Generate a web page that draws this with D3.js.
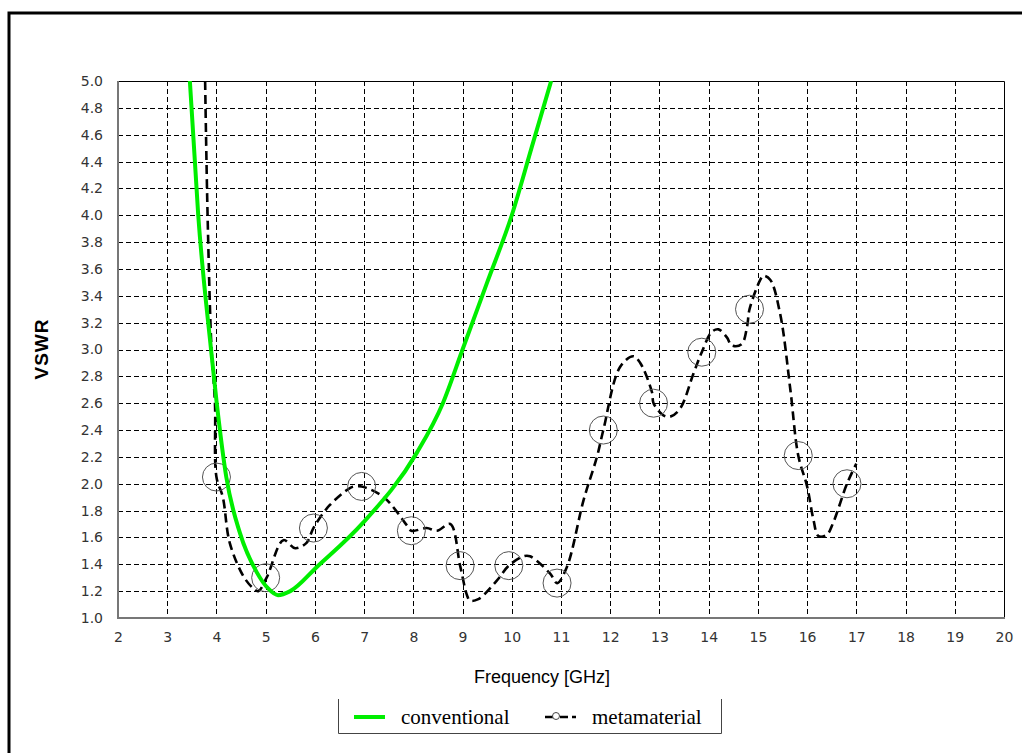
<!DOCTYPE html>
<html>
<head>
<meta charset="utf-8">
<script src="https://cdn.jsdelivr.net/npm/d3@7"></script>
<style>
  body { margin: 0; background: #fff; }
  svg { display: block; }
</style>
</head>
<body>
<div id="chart"></div>
<script>
const width = 1022;
const height = 753;

// frequency ticks (GHz) and VSWR ticks
const xTicks = d3.range(2, 21, 1);
const yTicks = d3.range(1.0, 5.01, 0.2);

// conventional antenna
const convFreq = [3.46, 3.63, 3.89, 4.0, 4.2, 4.48, 4.82, 5.05, 5.25, 5.5, 6.04, 6.98, 8.07, 8.6, 9.0, 9.5, 10.0, 10.4, 10.8];
const convVswr = [5.0, 4.0, 3.0, 2.62, 2.05, 1.63, 1.34, 1.22, 1.17, 1.2, 1.38, 1.71, 2.23, 2.6, 3.0, 3.5, 4.0, 4.5, 5.0];

// metamaterial antenna
const metaFreq = [3.77, 3.82, 3.9, 3.97, 4.0, 4.13, 4.27, 4.55, 4.75, 4.85, 5.02, 5.36, 5.6, 5.83, 5.97, 6.3, 6.72, 6.82, 6.95, 7.4, 7.87, 7.96, 8.27, 8.48, 8.75, 8.95, 9.09, 9.15, 9.32, 9.7, 9.94, 10.24, 10.37, 10.78, 10.92, 11.12, 11.46, 11.73, 11.86, 12.2, 12.47, 12.61, 12.85, 12.88, 13.08, 13.22, 13.42, 13.69, 13.86, 14.06, 14.2, 14.37, 14.47, 14.67, 14.78, 14.83, 15.05, 15.11, 15.25, 15.45, 15.66, 15.82, 16.0, 16.13, 16.23, 16.4, 16.53, 16.81, 17.0];
const metaVswr = [5.0, 4.0, 3.0, 2.6, 2.05, 1.9, 1.56, 1.31, 1.22, 1.2, 1.3, 1.58, 1.52, 1.56, 1.67, 1.84, 1.97, 1.98, 1.98, 1.9, 1.69, 1.65, 1.67, 1.65, 1.7, 1.39, 1.17, 1.13, 1.14, 1.28, 1.39, 1.46, 1.46, 1.33, 1.26, 1.38, 1.88, 2.2, 2.4, 2.87, 2.95, 2.9, 2.68, 2.6, 2.51, 2.5, 2.56, 2.82, 2.98, 3.13, 3.15, 3.09, 3.03, 3.04, 3.17, 3.3, 3.52, 3.55, 3.52, 3.27, 2.7, 2.21, 1.98, 1.73, 1.61, 1.62, 1.71, 2.0, 2.15];

// circle markers on the metamaterial curve
const markFreq = [4.0, 5.0, 5.97, 6.95, 7.96, 8.95, 9.94, 10.92, 11.86, 12.88, 13.86, 14.83, 15.82, 16.81];
const markVswr = [2.05, 1.30, 1.67, 1.98, 1.65, 1.39, 1.39, 1.26, 2.40, 2.60, 2.98, 3.30, 2.21, 2.00];

const margin = { left: 118, right: 1004, top: 81, bottom: 618 };

const svg = d3.select("#chart")
    .append("svg")
    .attr("width", width)
    .attr("height", height);

// outer frame (runs off the right and bottom edge)
svg.append("rect")
    .attr("x", 9)
    .attr("y", 13)
    .attr("width", 1040)
    .attr("height", 780)
    .attr("fill", "none")
    .attr("stroke", "#000")
    .attr("stroke-width", 3);

const x = d3.scaleLinear().domain([2, 20]).range([margin.left, margin.right]);
const y = d3.scaleLinear().domain([1, 5]).range([margin.bottom, margin.top]);

// grid
const grid = svg.append("g");
grid.selectAll(".vgrid")
    .data(xTicks.slice(1, -1))
    .enter()
    .append("line")
    .attr("x1", d => Math.round(x(d)) + 0.5)
    .attr("x2", d => Math.round(x(d)) + 0.5)
    .attr("y1", margin.top)
    .attr("y2", margin.bottom)
    .attr("stroke", "#000")
    .attr("stroke-dasharray", "5,3");
grid.selectAll(".hgrid")
    .data(yTicks.slice(1, -1))
    .enter()
    .append("line")
    .attr("x1", margin.left)
    .attr("x2", margin.right)
    .attr("y1", d => Math.round(y(d)) + 0.5)
    .attr("y2", d => Math.round(y(d)) + 0.5)
    .attr("stroke", "#000")
    .attr("stroke-dasharray", "5,3");

// plot border
svg.append("path")
    .attr("d", `M${margin.left},${margin.top + 0.5}H${margin.right + 0.5}V${margin.bottom}`)
    .attr("fill", "none")
    .attr("stroke", "#000")
    .attr("stroke-width", 1);
svg.append("path")
    .attr("d", `M${margin.left},${margin.top}V${margin.bottom}H${margin.right + 1}`)
    .attr("fill", "none")
    .attr("stroke", "#777")
    .attr("stroke-width", 2);

// axes
const xAxis = svg.append("g")
    .attr("transform", `translate(0,${margin.bottom})`)
    .call(d3.axisBottom(x).tickValues(xTicks).tickSize(0).tickPadding(14).tickFormat(d3.format("d")));
const yAxis = svg.append("g")
    .attr("transform", `translate(${margin.left},0)`)
    .call(d3.axisLeft(y).tickValues(yTicks).tickSize(0).tickPadding(15).tickFormat(d3.format(".1f")));
[xAxis, yAxis].forEach(a => {
    a.select(".domain").remove();
    a.selectAll("text")
        .attr("font-family", "DejaVu Sans, sans-serif")
        .attr("font-size", 14)
        .attr("fill", "#333");
});

// clip for curves
svg.append("clipPath").attr("id", "plotClip")
    .append("rect")
    .attr("x", margin.left)
    .attr("y", margin.top)
    .attr("width", margin.right - margin.left)
    .attr("height", margin.bottom - margin.top);

const metaLine = d3.line()
    .x(d => x(d[0]))
    .y(d => y(d[1]))
    .curve(d3.curveCatmullRom.alpha(0.5));
const convLine = d3.line()
    .x(d => x(d[0]))
    .y(d => y(d[1]))
    .curve(d3.curveMonotoneX);

const convData = convFreq.map((f, i) => [f, convVswr[i]]);
const metaData = metaFreq.map((f, i) => [f, metaVswr[i]]);
const markData = markFreq.map((f, i) => [f, markVswr[i]]);

const plot = svg.append("g").attr("clip-path", "url(#plotClip)");

plot.append("path")
    .datum(metaData)
    .attr("d", metaLine)
    .attr("fill", "none")
    .attr("stroke", "#000")
    .attr("stroke-width", 2.6)
    .attr("stroke-dasharray", "9,5");

plot.selectAll(".marker")
    .data(markData)
    .enter()
    .append("circle")
    .attr("cx", d => x(d[0]))
    .attr("cy", d => y(d[1]))
    .attr("r", 14)
    .attr("fill", "none")
    .attr("stroke", "#555")
    .attr("stroke-width", 1);

plot.append("path")
    .datum(convData)
    .attr("d", convLine)
    .attr("fill", "none")
    .attr("stroke", "#00ee00")
    .attr("stroke-width", 4);

// axis titles
svg.append("text")
    .attr("x", 542)
    .attr("y", 683)
    .attr("text-anchor", "middle")
    .attr("font-family", "Liberation Sans, Arial, sans-serif")
    .attr("font-size", 18)
    .attr("fill", "#000")
    .text("Frequency [GHz]");

svg.append("text")
    .attr("transform", "translate(48,349) rotate(-90)")
    .attr("text-anchor", "middle")
    .attr("font-family", "Liberation Sans, Arial, sans-serif")
    .attr("font-size", 19)
    .attr("font-weight", "bold")
    .attr("letter-spacing", 1)
    .attr("fill", "#000")
    .text("VSWR");

// legend
const legend = svg.append("g");
legend.append("path")
    .attr("d", "M338.5,699V733.5H721.5V699")
    .attr("fill", "none")
    .attr("stroke", "#444")
    .attr("stroke-width", 1);
legend.append("line")
    .attr("x1", 354).attr("x2", 385)
    .attr("y1", 717).attr("y2", 717)
    .attr("stroke", "#00ee00")
    .attr("stroke-width", 4);
legend.append("text")
    .attr("x", 401).attr("y", 724)
    .attr("font-family", "Liberation Serif, Times New Roman, serif")
    .attr("font-size", 21)
    .text("conventional");
legend.append("line")
    .attr("x1", 545).attr("x2", 553)
    .attr("y1", 717).attr("y2", 717)
    .attr("stroke", "#000").attr("stroke-width", 2.5);
legend.append("line")
    .attr("x1", 560).attr("x2", 576)
    .attr("y1", 717).attr("y2", 717)
    .attr("stroke", "#000").attr("stroke-width", 2.5)
    .attr("stroke-dasharray", "8,4");
legend.append("circle")
    .attr("cx", 556).attr("cy", 716).attr("r", 3.5)
    .attr("fill", "#fff").attr("stroke", "#444").attr("stroke-width", 1);
legend.append("text")
    .attr("x", 592).attr("y", 724)
    .attr("font-family", "Liberation Serif, Times New Roman, serif")
    .attr("font-size", 21)
    .text("metamaterial");
</script>
</body>
</html>
